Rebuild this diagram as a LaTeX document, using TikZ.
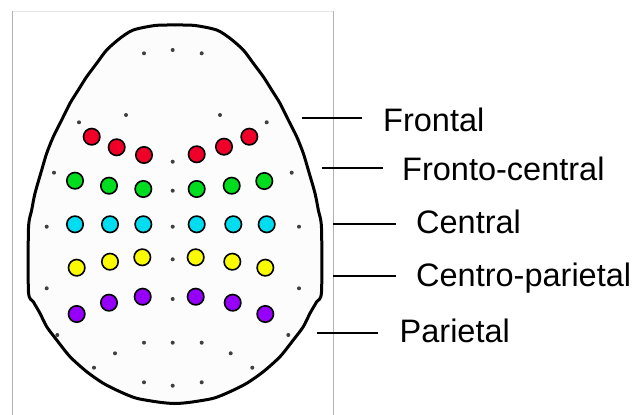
\documentclass[tikz,border=0pt]{standalone}
\usepackage{fontspec}
\setmainfont{Liberation Sans}
\definecolor{eRed}{RGB}{240,0,40}
\definecolor{eGreen}{RGB}{0,220,30}
\definecolor{eCyan}{RGB}{0,220,240}
\definecolor{eYellow}{RGB}{250,250,0}
\definecolor{ePurple}{RGB}{150,0,250}
\definecolor{headFill}{RGB}{252,252,252}
\begin{document}
\begin{tikzpicture}[x=1pt,y=-1pt,
  electrode/.style={circle,draw=black,line width=1.6pt,minimum size=16.4pt,inner sep=0pt},
  gdot/.style={circle,fill=black!75,minimum size=4pt,inner sep=0pt},
  lbl/.style={anchor=base west,inner sep=0pt,font=\fontsize{32.5}{36}\selectfont},
  lead/.style={line width=2pt}]
\useasboundingbox (0,0) rectangle (635,415);
% frame
\draw[black!10,line width=1pt] (12.3,11) -- (333,11);
\draw[black!30,line width=1pt] (12.3,11) -- (12.3,415);
\draw[black!30,line width=1pt] (333,11) -- (333,415);
% head
\draw[line width=3pt,fill=headFill] plot[smooth cycle,tension=0.45] coordinates {
 (175,25) (195,25.5) (216.7,30) (230,38.3) (243.3,50) (253.3,63.3) (263.3,76.7) (271.7,90)
 (280,103.3) (288.3,120) (296.7,136.7) (303.3,153.3) (308.3,170) (315,193.3) (318.3,210)
 (321.5,228) (321.5,292) (316.7,301.7) (310,313.3) (303.3,326.7) (293.3,340) (280,356.7)
 (263.3,371.7) (246.7,383.3) (230,391.7) (213.3,398.3) (190,402.3)
 (175,403.5)
 (160,402.3) (136.7,398.3) (120,391.7) (103.3,383.3) (86.7,371.7) (70,356.7) (56.7,340)
 (46.7,326.7) (40,313.3) (33.3,301.7) (28.5,292) (28.5,228) (31.7,210) (35,193.3)
 (41.7,170) (46.7,153.3) (53.3,136.7) (61.7,120) (70,103.3) (78.3,90) (86.7,76.7)
 (96.7,63.3) (106.7,50) (120,38.3) (133.3,30) (155,25.5)};
% small dots
\foreach \x/\y [count=\i] in {144/53.3,172.7/50,201.7/53.3,79/122.3,126/115,220/115,266.7/122.3,
  172.7/161.7,54/172.7,291.7/172.7,172.7/190.7,46.7/226.7,172.7/226.7,299/226.7,172.7/259.3,
  46.7/288.3,299/288.3,172.7/299,57.3/335,288.3/335,144/342.7,172.7/342.7,201.7/342.7,
  115/353.3,230.7/353.3,94/367.7,252.3/367.7,144/382.3,172.7/385.7,201.7/382.3}
  \node[gdot] (d\i) at (\x,\y) {};
% electrodes
\foreach \x/\y [count=\i] in {91.7/136.7,116.7/147.3,144/155,196.7/154.3,224/146.7,249.3/136.7}
  \node[electrode,fill=eRed] (f\i) at (\x,\y) {};
\foreach \x/\y [count=\i] in {75/180.7,109/185.7,143.3/189,196.7/189,231.7/185.7,264.3/181}
  \node[electrode,fill=eGreen] (fc\i) at (\x,\y) {};
\foreach \x/\y [count=\i] in {75/224.3,110/224.3,143.3/224.3,196.7/224.3,233.3/224.3,266.7/224.3}
  \node[electrode,fill=eCyan] (c\i) at (\x,\y) {};
\foreach \x/\y [count=\i] in {76.7/267.7,110/261.7,142.3/257.3,195.7/257.3,232.3/261.7,265.3/267.7}
  \node[electrode,fill=eYellow] (cp\i) at (\x,\y) {};
\foreach \x/\y [count=\i] in {76.7/314,109/302.7,142.7/296.7,195.7/296.7,232.7/302.7,265.3/314}
  \node[electrode,fill=ePurple] (p\i) at (\x,\y) {};
% labels
\node[lbl] (lF) at (383,131.7) {Frontal};
\node[lbl] (lFC) at (402,180.7) {Fronto-central};
\node[lbl] (lC) at (416,233.3) {Central};
\node[lbl] (lCP) at (416,286.7) {Centro-parietal};
\node[lbl] (lP) at (399.5,342.3) {Parietal};
\coordinate (aF1) at (301.7,118.3); \coordinate (aF2) at (361.7,118.3);
\coordinate (aFC1) at (321.7,168.3); \coordinate (aFC2) at (382.7,168.3);
\coordinate (aC1) at (333.3,224); \coordinate (aC2) at (396,224);
\coordinate (aCP1) at (333.3,275.7); \coordinate (aCP2) at (396,275.7);
\coordinate (aP1) at (317.3,333.3); \coordinate (aP2) at (378.3,333.3);
\draw[lead] (aF1) -- (aF2);
\draw[lead] (aFC1) -- (aFC2);
\draw[lead] (aC1) -- (aC2);
\draw[lead] (aCP1) -- (aCP2);
\draw[lead] (aP1) -- (aP2);
\end{tikzpicture}
\end{document}
